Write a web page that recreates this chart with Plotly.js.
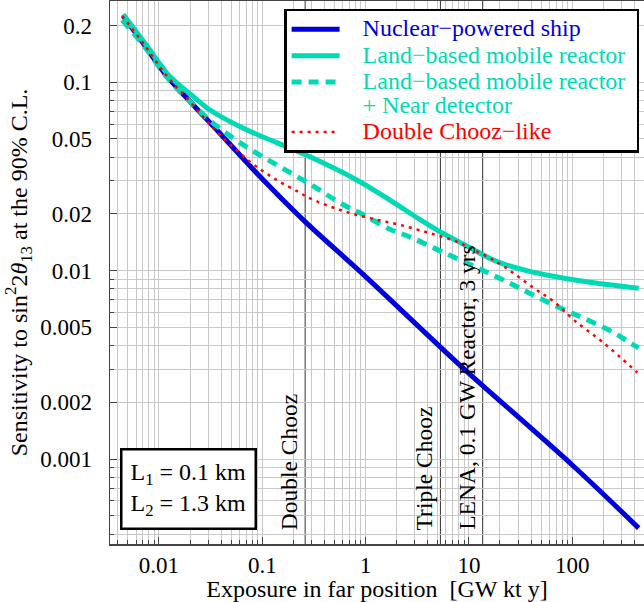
<!DOCTYPE html>
<html>
<head>
<meta charset="utf-8">
<script src="https://cdn.plot.ly/plotly-3.0.1.min.js"></script>
<style>html,body{margin:0;padding:0;background:#fff;}#chart{width:644px;height:602px;}</style>
</head>
<body>
<div id="chart"></div>
<script>
// ---- data ----
const shipX = [0.0045, 0.00705, 0.0119, 0.0207, 0.039, 0.095, 0.249, 1, 5.25, 10, 100, 440];
const shipY = [0.225, 0.161, 0.108, 0.0774, 0.0535, 0.0316, 0.0186, 0.0093, 0.00395, 0.00285, 0.00093, 0.00043];

const landX = [0.0045, 0.0075, 0.0119, 0.0148, 0.0215, 0.0312, 0.0655, 0.138, 0.29, 0.82, 1.72, 3.62, 5.25, 8.9, 18.8, 39.6, 83.4, 175, 440];
const landY = [0.23, 0.158, 0.112, 0.0995, 0.0839, 0.0713, 0.057, 0.0478, 0.0402, 0.0303, 0.0237, 0.0182, 0.0161, 0.0138, 0.01116, 0.00988, 0.00912, 0.00857, 0.00807];

const nearX = [0.0044, 0.0071, 0.012, 0.0207, 0.0336, 0.0655, 0.138, 0.29, 0.59, 0.92, 1.72, 2.69, 5.5, 12.8, 25, 38.2, 79.6, 124, 267, 371, 440];
const nearY = [0.214, 0.157, 0.106, 0.0774, 0.0605, 0.0465, 0.0364, 0.0288, 0.0226, 0.02, 0.0166, 0.0151, 0.0126, 0.0102, 0.00857, 0.00762, 0.00627, 0.00565, 0.00461, 0.0041, 0.0039];

const dcX = [0.0044, 0.00705, 0.0119, 0.0207, 0.0336, 0.076, 0.138, 0.223, 0.29, 0.565, 1.1, 2.15, 4.2, 7.6, 10.4, 14.9, 21.9, 42.7, 66.7, 104, 203, 427];
const dcY = [0.225, 0.161, 0.108, 0.0774, 0.057, 0.0379, 0.0303, 0.0262, 0.0242, 0.021, 0.019, 0.0175, 0.0158, 0.01426, 0.0131, 0.0119, 0.0105, 0.00807, 0.00684, 0.00547, 0.00412, 0.00288];

const seriesNames = ["Nuclear\u2212powered ship", "Land\u2212based mobile reactor", "Land\u2212based mobile reactor<br>+ Near detector", "Double Chooz\u2212like"];

const refExposure = [0.26, 5.3, 13.6];
const refLabels = ["Double Chooz", "Triple Chooz", "LENA, 0.1 GW Reactor, 3 yrs"];

const xTickVals = [0.01, 0.1, 1, 10, 100];
const xTickText = ["0.01", "0.1", "1", "10", "100"];
const yTickVals = [0.2, 0.1, 0.05, 0.02, 0.01, 0.005, 0.002, 0.001];
const yTickText = ["0.2", "0.1", "0.05", "0.02", "0.01", "0.005", "0.002", "0.001"];

const boxText = "L<sub>1</sub> = 0.1 km<br>L<sub>2</sub> = 1.3 km";

// ---- styling ----
const BLUE = "#0000dc", TEAL = "#00dab4", RED = "#ff0000";
const FONT = "Liberation Serif, Times New Roman, serif";

function minorVals(lo, hi) {
  const out = [];
  for (let e = lo; e <= hi; e++) for (let k = 1; k <= 9; k++) out.push(k * Math.pow(10, e));
  return out;
}
function colored(t, c) {
  return t.split("<br>").map(s => '<span style="color:' + c + ';font-size:24px">\u00a0\u00a0\u00a0' + s + '\u00a0</span>').join("<br>");
}

const traces = [
  {x: shipX, y: shipY, mode: "lines", name: colored(seriesNames[0], BLUE), line: {color: BLUE, width: 5, shape: "spline"}},
  {x: landX, y: landY, mode: "lines", name: colored(seriesNames[1], TEAL), line: {color: TEAL, width: 5, shape: "spline"}},
  {x: nearX, y: nearY, mode: "lines", name: colored(seriesNames[2], TEAL), line: {color: TEAL, width: 5, dash: "10px,7px", shape: "spline"}},
  {x: dcX, y: dcY, mode: "lines", name: colored(seriesNames[3], RED), line: {color: RED, width: 2.5, dash: "3px,5px", shape: "spline"}}
];

const axisCommon = {
  type: "log", showgrid: true, gridcolor: "#c8c8c8", gridwidth: 1,
  ticks: "inside", ticklen: 7, tickwidth: 1, tickcolor: "#444",
  showline: true, linecolor: "#444", linewidth: 1.5, mirror: true, zeroline: false,
  tickfont: {family: FONT, size: 23, color: "#000"}
};

const layout = {
  width: 644, height: 602,
  margin: {l: 110, r: 0, t: 1, b: 58},
  paper_bgcolor: "#fff", plot_bgcolor: "#fff",
  font: {family: FONT, size: 22, color: "#000"},
  showlegend: true,
  xaxis: Object.assign({}, axisCommon, {
    range: [-2.474, 2.695], tickmode: "array", tickvals: xTickVals, ticktext: xTickText,
    minor: {tickmode: "array", tickvals: minorVals(-3, 2), ticks: "inside", ticklen: 4, tickcolor: "#444", showgrid: true, gridcolor: "#c8c8c8", gridwidth: 1},
    title: {text: "Exposure in far position  [GW kt y]", font: {family: FONT, size: 24, color: "#000"}, standoff: 2}
  }),
  yaxis: Object.assign({}, axisCommon, {
    range: [-3.451, -0.5685], tickmode: "array", tickvals: yTickVals, ticktext: yTickText,
    ticklabelstandoff: 12,
    minor: {tickmode: "array", tickvals: minorVals(-4, -1), ticks: "inside", ticklen: 4, tickcolor: "#444", showgrid: true, gridcolor: "#c8c8c8", gridwidth: 1},
    title: {text: "Sensitivity to sin<sup>2</sup>2<i>\u03b8</i><sub>13</sub> at the 90% C.L.", font: {family: FONT, size: 24, color: "#000"}, standoff: 6}
  }),
  legend: {
    x: 0.326, y: 0.986, xanchor: "left", yanchor: "top", valign: "top",
    bgcolor: "#fff", bordercolor: "#000", borderwidth: 2.5,
    font: {family: FONT, size: 18, color: "#000"},
    itemwidth: 48, tracegroupgap: 0
  },
  shapes: refExposure.map(v => ({
    type: "line", xref: "x", yref: "paper", x0: v, x1: v, y0: 0, y1: 1,
    line: {color: "#333", width: 1}, layer: "between"
  })),
  annotations: refLabels.map((t, i) => ({
    text: t, xref: "x", yref: "paper", x: Math.log10(refExposure[i]), y: 0.022,
    xanchor: "right", yanchor: "bottom", textangle: -90, showarrow: false,
    xshift: -1, font: {family: FONT, size: 23.5, color: "#000"}
  })).concat([{
    text: boxText, xref: "paper", yref: "paper", x: 0.018, y: 0.026,
    xanchor: "left", yanchor: "bottom", showarrow: false, align: "left",
    bgcolor: "#fff", bordercolor: "#000", borderwidth: 2.5, borderpad: 8,
    font: {family: FONT, size: 24, color: "#000"}
  }])
};

Plotly.newPlot("chart", traces, layout, {staticPlot: true, displayModeBar: false});
</script>
</body>
</html>
